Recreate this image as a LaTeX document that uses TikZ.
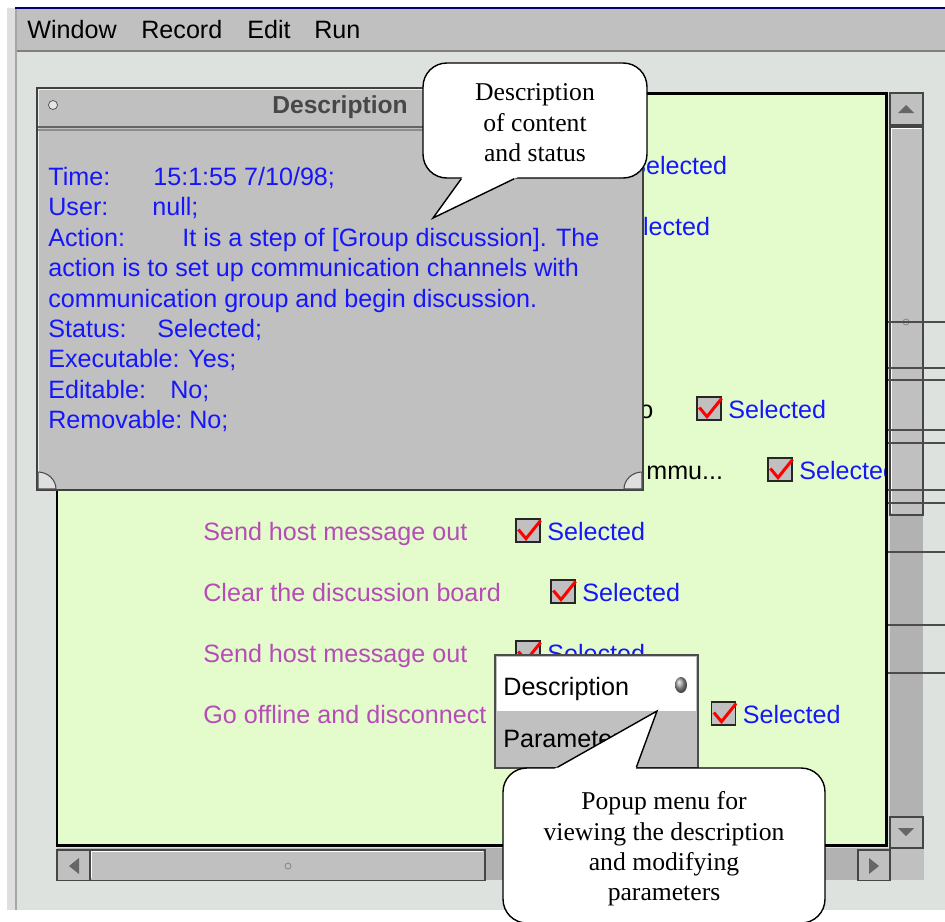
\documentclass[tikz,border=0pt]{standalone}
\usepackage{fontspec}
\setmainfont{Liberation Serif}
\setsansfont{Liberation Sans}
\usepackage{xcolor}
\usetikzlibrary{calc,positioning}

\definecolor{guigray}{RGB}{192,192,192}
\definecolor{trackgray}{RGB}{178,178,178}
\definecolor{deskgray}{RGB}{222,226,222}
\definecolor{panelgreen}{RGB}{228,252,204}
\definecolor{infoblue}{RGB}{22,22,250}
\definecolor{stepviolet}{RGB}{182,76,182}
\definecolor{framedark}{RGB}{100,100,100}

\begin{document}
\begin{tikzpicture}[x=0.02cm, y=-0.02cm,
    gui/.style={font=\sffamily\fontsize{14.3}{16}\selectfont, inner sep=0pt, anchor=base west},
    info/.style={gui, text=infoblue},
    steptext/.style={gui, text=stepviolet},
    tickbox/.style={draw=black!85, fill=guigray, line width=0.8pt, minimum width=13.6pt, minimum height=13pt, inner sep=0pt},
    tick/.style={red, line width=1.7pt, line join=miter},
    bevel/.style={fill=guigray, draw=gray!55!black, line width=0.6pt},
    arrowtri/.style={fill=black!60},
    note/.style={draw, fill=white, line width=0.8pt, rounded corners=13.5pt, align=center, inner sep=0pt,
        font=\fontsize{14.6}{17.3}\selectfont}]
    \useasboundingbox (0,0) rectangle (945,921);
    \fill[white] (0,0) rectangle (945,921);

    % application frame and menu bar
    \fill[gray!25] (7,8) rectangle (945,910);
    \draw[gray!70, line width=1.2pt] (16,9) -- (16,910);
    \fill[deskgray] (18,52) rectangle (945,910);
    \fill[guigray] (17,9) rectangle (945,50);
    \draw[blue!45!black, line width=1.2pt] (15,8) -- (945,8);
    \draw[gray, line width=1pt] (17,51) -- (945,51);
    \node[gui] (m-window) at (27,38) {Window};
    \node[gui] (m-record) at (141,38) {Record};
    \node[gui] (m-edit) at (247,38) {Edit};
    \node[gui] (m-run) at (314,38) {Run};

    % process steps panel
    \fill[panelgreen] (57,93) rectangle (886,845);
    \begin{scope}
        \clip (57,93) rectangle (886,845);
        \node[info] (s1) at (629,174) {Selected};
        \node[info] (s2) at (612,235) {Selected};
        \node[gui] (r3) at (639,418) {o};
        \node[gui] (r4) at (646,479) {mmu...};
        \node[steptext] (r5) at (203,540) {Send host message out};
        \node[steptext] (r6) at (203,601) {Clear the discussion board};
        \node[steptext] (r7) at (203,662) {Send host message out};
        \node[steptext] (r8) at (203,723) {Go offline and disconnect a};
        \foreach \n/\cx/\by in {3/709/418, 4/780/479, 5/528/540, 6/563/601, 7/528/662, 8/723.5/723} {
            \node[tickbox] (b\n) at (\cx,\by-9.5) {};
            \draw[tick] ($(b\n.west)+(3,-1)$) -- ($(b\n.south)+(-2,-4)$) -- ($(b\n.north east)+(0,2)$);
            \node[info] (s\n) at (\cx+19,\by) {Selected};
        }
    \end{scope}
    \draw[line width=1.7pt] (57,93) rectangle (886,845);

    % scroll bars
    \fill[trackgray] (890,93) rectangle (923,848);
    \fill[trackgray] (57,848) rectangle (890,880);
    \draw[bevel] (890,93) rectangle (923,125);
    \fill[arrowtri] (898,113) -- (914,113) -- (906,105) -- cycle;
    \draw[bevel] (890,127) rectangle (923,515);
    \draw[white, line width=0.8pt] (891.5,513) -- (891.5,128.5) -- (921,128.5);
    \draw[gray] (906,322) circle (3);
    \draw[bevel] (890,817) rectangle (923,848);
    \fill[arrowtri] (898,828) -- (914,828) -- (906,836) -- cycle;
    \draw[bevel] (57,850) rectangle (90,880);
    \fill[arrowtri] (79,858) -- (79,874) -- (69,866) -- cycle;
    \draw[bevel] (90,850) rectangle (485,880);
    \draw[white, line width=0.8pt] (91.5,878) -- (91.5,851.5) -- (483,851.5);
    \draw[gray] (288,866) circle (3);
    \draw[bevel] (858,850) rectangle (890,880);
    \fill[arrowtri] (869,858) -- (869,874) -- (879,866) -- cycle;
    \fill[guigray] (891,849) rectangle (924,880);
    \foreach \y in {322,368,380,430,443,490,503,552,625,673}
        \draw[gray!60!black, line width=0.6pt] (888,\y) -- (945,\y);

    % description window
    \draw[fill=guigray, draw=gray!50!black, line width=0.8pt] (37,88) rectangle (643,490);
    \draw[white!85!gray, line width=1pt] (38.5,489) -- (38.5,89.5) -- (642,89.5);
    \draw[framedark, line width=1.5pt] (38,127) -- (642,127);
    \draw[gray!90, line width=0.6pt] (38,130) -- (642,130);
    \draw[gray!60!black, fill=gray!20] (53,105) circle (4.5);
    \node[gui, font=\sffamily\bfseries\fontsize{14}{16}\selectfont, text=black!72] (d-title) at (272,113) {Description};
    \draw[gray!60!black, fill=gray!25, line width=0.6pt] (38,472) .. controls (48,472) and (56,480) .. (56,489) -- (38,489) -- cycle;
    \draw[gray!60!black, fill=gray!25, line width=0.6pt] (642,472) .. controls (632,472) and (624,480) .. (624,489) -- (642,489) -- cycle;
    \node[info] (l-time) at (48,185) {Time:};
    \node[info] (v-time) at (153,185) {15:1:55 7/10/98;};
    \node[info] (l-user) at (48,215.5) {User:};
    \node[info] (v-user) at (152,215.5) {null;};
    \node[info] (l-action) at (48,246) {Action:};
    \node[info] (v-action) at (182,246) {It is a step of [Group discussion]. The};
    \node[info] (v-action2) at (48,276.5) {action is to set up communication channels with};
    \node[info] (v-action3) at (48,307) {communication group and begin discussion.};
    \node[info] (l-status) at (48,337) {Status:};
    \node[info] (v-status) at (157,337) {Selected;};
    \node[info] (l-exec) at (48,367.5) {Executable:};
    \node[info] (v-exec) at (188,367.5) {Yes;};
    \node[info] (l-edit) at (48,398) {Editable:};
    \node[info] (v-edit) at (170,398) {No;};
    \node[info] (l-remove) at (48,428) {Removable:};
    \node[info] (v-remove) at (189,428) {No;};

    % callout on the description window
    \node[note, minimum width=4.48cm, minimum height=2.3cm] (desc note) at (535,120.5) {};
    \node[font=\fontsize{14.6}{17.3}\selectfont, align=center, inner sep=0pt] (desc text) at (535,123) {Description\\of content\\and status};
    \coordinate (desc tip) at (433,218);
    \coordinate (desc bl) at ($(desc note.south west)+(39,0)$);
    \coordinate (desc br) at ($(desc note.south west)+(92,0)$);
    \fill[white] ($(desc tip)!1.15!(desc bl)$) -- (desc tip) -- ($(desc tip)!1.15!(desc br)$) -- cycle;
    \draw[line width=0.8pt] (desc bl) -- (desc tip) -- (desc br);

    % popup menu
    \draw[fill=guigray, draw=black!70, line width=1.4pt] (495,655) rectangle (698,768);
    \fill[white] (497,657) rectangle (696,711);
    \node[gui] (pm-desc) at (503,695) {Description};
    \node[gui] (pm-param) at (503,747) {Parameters};
    \shade[ball color=gray!80] (681,685) ellipse (6 and 8);

    % callout on the popup menu
    \node[note, minimum width=6.44cm, minimum height=3.1cm] (popup note) at (664,845.5) {};
    \node[font=\fontsize{14.6}{17.3}\selectfont, align=center, inner sep=0pt] (popup text) at (664,849) {Popup menu for\\viewing the description\\and modifying\\parameters};
    \coordinate (popup tip) at (657,711);
    \coordinate (popup bl) at ($(popup note.north west)+(55,0)$);
    \coordinate (popup br) at ($(popup note.north west)+(134,0)$);
    \fill[white] ($(popup tip)!1.15!(popup bl)$) -- (popup tip) -- ($(popup tip)!1.15!(popup br)$) -- cycle;
    \draw[line width=0.8pt] (popup bl) -- (popup tip) -- (popup br);
\end{tikzpicture}
\end{document}
